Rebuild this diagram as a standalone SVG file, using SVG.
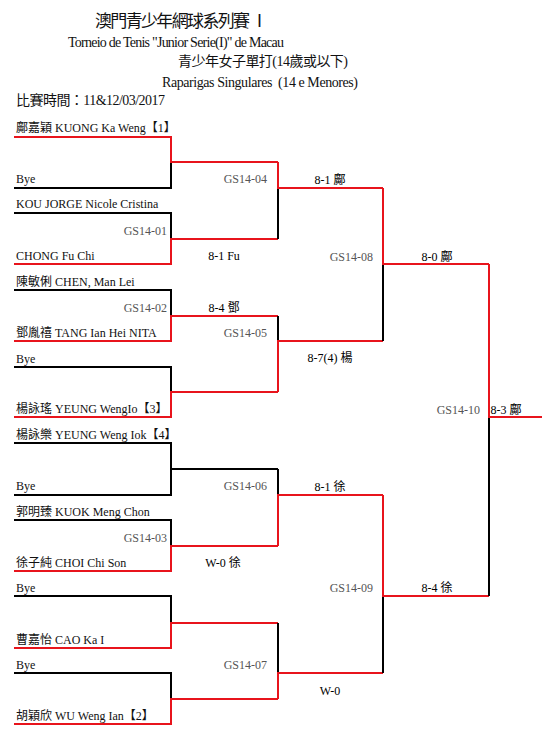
<svg xmlns="http://www.w3.org/2000/svg" width="550" height="752" viewBox="0 0 550 752">
<style>
text{font-family:"Liberation Serif","Noto Sans CJK TC",serif;fill:#111;}
.t1{font-size:17px;}
.t2{font-size:14px;}
.nm{font-size:12px;}
.gs{font-size:12px;fill:#555;text-anchor:end;}
.sc{font-size:12px;fill:#000;text-anchor:middle;}
.r{stroke:#e8141c;stroke-width:2;fill:none;}
.k{stroke:#000;stroke-width:2;fill:none;}
</style>
<rect width="550" height="752" fill="#fff"/>
<g id="header">
<text class="t1" x="95" y="27" textLength="173">澳門青少年網球系列賽 Ⅰ</text>
<text class="t2" x="68" y="47" textLength="216">Torneio de Tenis "Junior Serie(I)" de Macau</text>
<text class="t2" x="178" y="66" textLength="170">青少年女子單打(14歲或以下)</text>
<text class="t2" x="162" y="87" textLength="196" xml:space="preserve">Raparigas Singulares  (14 e Menores)</text>
<text class="t2" x="16" y="105" textLength="149">比賽時間：11&amp;12/03/2017</text>
</g>
<g id="connectors">
<path class="k" d="M14 188H171V162 M14 213H171V239 M14 290H171V316 M14 367H171V392 M14 443H171V495H14 M171 469H278 M14 520H171V546 M14 596H171V623 M14 673H171V699"/>
<path class="r" d="M14 137H171V162H278 M14 264H171V239H278 M14 341H171V316H278 M14 417H171V392H278 M14 571H171V546H278 M14 648H171V623H278 M14 724H171V699H278"/>
<path class="k" d="M278 188V239 M278 316V341 M278 469V495 M278 623V673"/>
<path class="r" d="M278 162V188H383 M278 392V341H383 M278 546V495H383 M278 699V673H383"/>
<path class="k" d="M383 264V341 M383 596V673"/>
<path class="r" d="M383 188V264H489 M383 495V596H489"/>
<path class="k" d="M489 417V596"/>
<path class="r" d="M489 264V417H542"/>
</g>
<g id="p1"><text class="nm" x="16" y="132">鄺嘉穎 KUONG Ka Weng【1】</text></g>
<g id="p2"><text class="nm" x="16" y="183">Bye</text></g>
<g id="p3"><text class="nm" x="16" y="208">KOU JORGE Nicole Cristina</text></g>
<g id="p4"><text class="nm" x="16" y="260">CHONG Fu Chi</text></g>
<g id="p5"><text class="nm" x="16" y="286">陳敏俐 CHEN, Man Lei</text></g>
<g id="p6"><text class="nm" x="16" y="337">鄧胤禧 TANG Ian Hei NITA</text></g>
<g id="p7"><text class="nm" x="16" y="363">Bye</text></g>
<g id="p8"><text class="nm" x="16" y="413">楊詠瑤 YEUNG WengIo【3】</text></g>
<g id="p9"><text class="nm" x="16" y="439">楊詠樂 YEUNG Weng Iok【4】</text></g>
<g id="p10"><text class="nm" x="16" y="490">Bye</text></g>
<g id="p11"><text class="nm" x="16" y="516">郭明臻 KUOK Meng Chon</text></g>
<g id="p12"><text class="nm" x="16" y="567">徐子純 CHOI Chi Son</text></g>
<g id="p13"><text class="nm" x="16" y="592">Bye</text></g>
<g id="p14"><text class="nm" x="16" y="644">曹嘉怡 CAO Ka I</text></g>
<g id="p15"><text class="nm" x="16" y="669">Bye</text></g>
<g id="p16"><text class="nm" x="16" y="720">胡穎欣 WU Weng Ian【2】</text></g>
<g id="m01"><text class="gs" x="167" y="235">GS14-01</text></g>
<g id="m02"><text class="gs" x="167" y="312">GS14-02</text><text class="sc" x="224" y="312">8-4 鄧</text></g>
<g id="m03"><text class="gs" x="167" y="542">GS14-03</text></g>
<g id="m04"><text class="gs" x="267" y="183">GS14-04</text><text class="sc" x="224" y="260">8-1 Fu</text></g>
<g id="m05"><text class="gs" x="267" y="337">GS14-05</text></g>
<g id="m06"><text class="gs" x="267" y="490">GS14-06</text><text class="sc" x="223" y="567">W-0 徐</text></g>
<g id="m07"><text class="gs" x="267" y="669">GS14-07</text></g>
<g id="m08"><text class="gs" x="373" y="261">GS14-08</text><text class="sc" x="330" y="184">8-1 鄺</text><text class="sc" x="330" y="362">8-7(4) 楊</text></g>
<g id="m09"><text class="gs" x="373" y="592">GS14-09</text><text class="sc" x="330" y="491">8-1 徐</text><text class="sc" x="330" y="695">W-0</text></g>
<g id="m10"><text class="gs" x="480" y="414">GS14-10</text><text class="sc" x="437" y="261">8-0 鄺</text><text class="sc" x="437" y="592">8-4 徐</text><text class="sc" x="506" y="414">8-3 鄺</text></g>
</svg>
